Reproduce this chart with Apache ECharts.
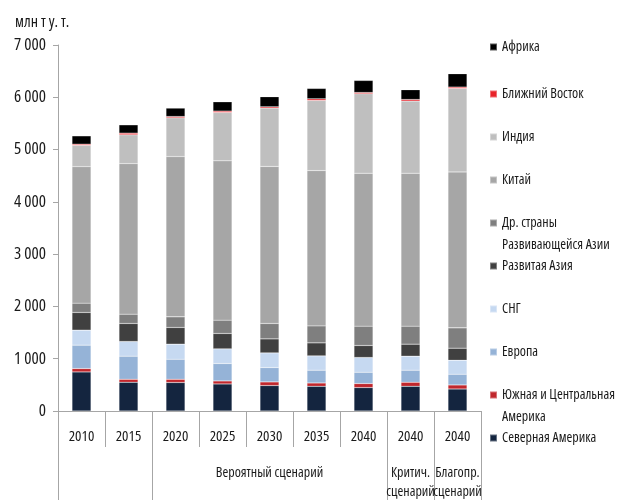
<!DOCTYPE html>
<html>
<head>
<meta charset="utf-8">
<script src="https://cdn.jsdelivr.net/npm/echarts@6/dist/echarts.min.js"></script>
<style>
html,body{margin:0;padding:0;background:#fff;}
#chart{width:617px;height:500px;}
</style>
</head>
<body>
<div id="chart"></div>
<script>
// ---- data ----
var categories = ['2010','2015','2020','2025','2030','2035','2040','2040','2040'];
var groupLabels = ['','','','','Вероятный сценарий','','','Критич.\nсценарий','Благопр.\nсценарий'];
var yTicks = [0,1000,2000,3000,4000,5000,6000,7000];
var unitLabel = 'млн т у. т.';

var northAmerica = [747, 550, 545, 517, 487, 473, 448, 473, 421];
var southCentralAmerica = [65, 57, 62, 58, 69, 63, 77, 77, 77];
var europe = [447, 441, 383, 333, 275, 244, 216, 230, 205];
var cis = [287, 281, 288, 280, 280, 274, 282, 268, 268];
var developedAsia = [339, 345, 320, 295, 268, 249, 230, 230, 230];
var otherDevelopingAsia = [178, 178, 203, 255, 295, 325, 370, 345, 389];
var china = [2611, 2880, 3065, 3046, 3004, 2970, 2925, 2925, 2983];
var india = [406, 550, 741, 925, 1115, 1341, 1519, 1379, 1596];
var middleEast = [23, 32, 25, 27, 25, 32, 25, 31, 26];
var africa = [159, 159, 161, 178, 192, 198, 230, 186, 255];

var seriesNames = ['Северная Америка','Южная и Центральная Америка','Европа','СНГ','Развитая Азия','Др. страны Развивающейся Азии','Китай','Индия','Ближний Восток','Африка'];
var legendLines = {
  'Южная и Центральная Америка': ['Южная и Центральная','Америка'],
  'Др. страны Развивающейся Азии': ['Др. страны','Развивающейся Азии']
};
var seriesValues = [northAmerica, southCentralAmerica, europe, cis, developedAsia, otherDevelopingAsia, china, india, middleEast, africa];

// ---- styles ----
var colors = ['#14253f','#c0272d','#95b3d7','#c6d9f1','#404040','#7f7f7f','#a6a6a6','#bfbfbf','#e8232a','#000000'];
var FONT = "'Open Sans', sans-serif";
var STRETCH = 'condensed';
// legend vertical centres (top to bottom: Африка ... Северная Америка)
var legendCentres = [47, 94, 137, 180, 223, 266, 309, 352, 395, 438];

function fmt(v){ return String(v).replace(/\B(?=(\d{3})+(?!\d))/g, ' '); }

var series = seriesNames.map(function(n, i){
  return {
    name: n, type: 'bar', stack: 'total', barWidth: 19,
    data: seriesValues[i],
    itemStyle: { color: colors[i], borderColor: 'rgba(255,255,255,0.35)', borderWidth: 0.5 },
    emphasis: { disabled: true }
  };
});

var legends = [];
var legendOrder = seriesNames.slice().reverse();
legendOrder.forEach(function(n, k){
  var multi = legendLines[n];
  var lh = multi ? 22 : 18;
  var h = multi ? lh * 3 : lh;
  legends.push({
    data: [n],
    orient: 'vertical',
    left: 489,
    top: legendCentres[k] - h / 2,
    padding: 0,
    itemWidth: 7, itemHeight: 7,
    icon: 'rect',
    selectedMode: false,
    formatter: function(name){
      var l = legendLines[name];
      return l ? '\n' + l[0] + '\n' + l[1] : name;
    },
    textStyle: { fontFamily: FONT, fontWeight: STRETCH, fontSize: 14, color: '#1a1a1a', lineHeight: lh }
  });
});

var chart = echarts.init(document.getElementById('chart'), null, {renderer: 'canvas'});
chart.setOption({
  animation: false,
  backgroundColor: '#ffffff',
  title: {
    text: unitLabel, left: 10, top: 9,
    textStyle: { fontFamily: FONT, fontSize: 16, fontWeight: STRETCH, color: '#1a1a1a' }
  },
  legend: legends,
  grid: { left: 58, right: 136, top: 45, bottom: 89, containLabel: false, outerBoundsMode: 'none' },
  xAxis: [
    {
      type: 'category', data: categories, position: 'bottom',
      axisLine: { show: true, lineStyle: { color: '#a6a6a6', width: 1 } },
      axisTick: { show: true, interval: 0, length: 36, lineStyle: { color: '#a6a6a6' } },
      axisLabel: { interval: 0, margin: 18, fontFamily: FONT, fontWeight: STRETCH, fontSize: 15, color: '#1a1a1a' }
    },
    {
      type: 'category', data: groupLabels, position: 'bottom', offset: 0,
      axisLine: { show: false },
      axisTick: { show: true, length: 92, lineStyle: { color: '#a6a6a6' },
        interval: function(i){ return i === 0 || i === 2 || i === 7 || i === 8; } },
      axisLabel: { interval: 0, margin: 53, fontFamily: FONT, fontWeight: STRETCH, fontSize: 14, color: '#1a1a1a', lineHeight: 19, verticalAlign: 'top' }
    }
  ],
  yAxis: {
    type: 'value', min: yTicks[0], max: yTicks[yTicks.length - 1], interval: 1000,
    axisLine: { show: true, lineStyle: { color: '#a6a6a6' } },
    axisTick: { show: true, length: 5, lineStyle: { color: '#a6a6a6' } },
    splitLine: { show: false },
    axisLabel: { margin: 12, fontFamily: FONT, fontWeight: STRETCH, fontSize: 17, color: '#1a1a1a', formatter: fmt }
  },
  series: series
});
</script>
</body>
</html>
